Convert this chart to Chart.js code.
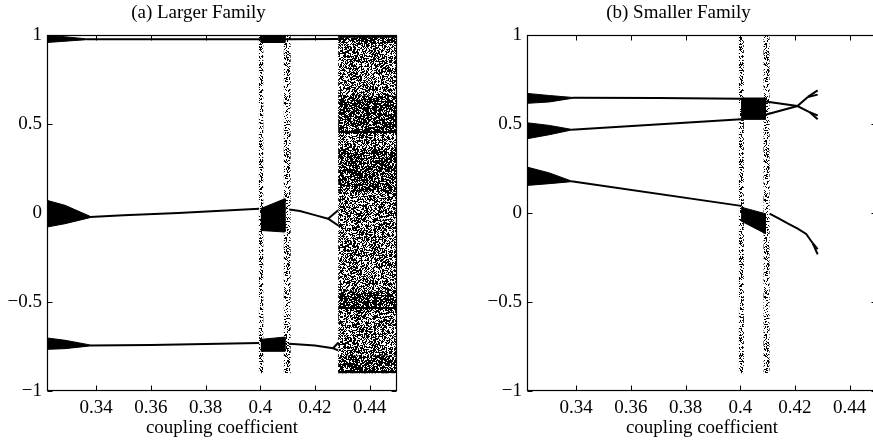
<!DOCTYPE html>
<html><head><meta charset="utf-8">
<script src="https://cdn.jsdelivr.net/npm/chart.js@4/dist/chart.umd.min.js"></script>
<style>
html,body{margin:0;padding:0;background:#fff;overflow:hidden;width:873px;height:444px;position:relative;}
#wrapA{position:absolute;left:0;top:0;width:440px;height:444px;}
#wrapB{position:absolute;left:480px;top:0;width:440px;height:444px;}
</style></head><body>
<div id="wrapA"><canvas id="cA" width="440" height="444"></canvas></div>
<div id="wrapB"><canvas id="cB" width="440" height="444"></canvas></div>
<script>
// ---------- axes / text ----------
const xRange = [0.322, 0.45];
const yRange = [-1, 1];
const xTicks = [0.34, 0.36, 0.38, 0.40, 0.42, 0.44];
const xTickLabels = ['0.34', '0.36', '0.38', '0.4', '0.42', '0.44'];
const yTicks = [-1, -0.5, 0, 0.5, 1];
const yTickLabels = ['\u22121', '\u22120.5', '0', '0.5', '1'];
const titleA = '(a) Larger Family';
const titleB = '(b) Smaller Family';
const xAxisTitle = 'coupling coefficient';

// ---------- panel (a) Larger Family ----------
const aTopWedgeUpper = [[0.322, 1.0], [0.3366, 0.978]];
const aTopWedgeLower = [[0.322, 0.958], [0.3366, 0.974]];
const aTopLine = [[0.3366, 0.976], [0.3996, 0.976], [0.4106, 0.976], [0.4285, 0.977]];
const aTopBox = [0.4002, 0.4090, 0.958, 1.0];
const aMidWedgeUpper = [[0.322, 0.071], [0.3286, 0.043], [0.3377, -0.018]];
const aMidWedgeLower = [[0.322, -0.079], [0.3286, -0.060], [0.3377, -0.026]];
const aMidLine1 = [[0.3377, -0.022], [0.35, -0.013], [0.37, 0.0], [0.3996, 0.024]];
const aMidBoxUpper = [[0.4002, 0.025], [0.4090, 0.080]];
const aMidBoxLower = [[0.4002, -0.098], [0.4090, -0.107]];
const aMidLine2 = [[0.4106, 0.020], [0.4145, 0.011], [0.4200, -0.012], [0.4248, -0.032]];
const aMidForkUp = [[0.4248, -0.032], [0.4285, 0.015]];
const aMidForkDown = [[0.4248, -0.032], [0.4285, -0.070]];
const aBotWedgeUpper = [[0.322, -0.702], [0.3286, -0.715], [0.3377, -0.741]];
const aBotWedgeLower = [[0.322, -0.766], [0.3286, -0.762], [0.3377, -0.747]];
const aBotLine1 = [[0.3377, -0.744], [0.36, -0.741], [0.38, -0.736], [0.3996, -0.731]];
const aBotBoxUpper = [[0.4002, -0.710], [0.4090, -0.697]];
const aBotBoxLower = [[0.4002, -0.777], [0.4090, -0.777]];
const aBotLine2 = [[0.4106, -0.734], [0.4200, -0.745], [0.4266, -0.760]];
const aBotForkUp = [[0.4266, -0.760], [0.4285, -0.729]];
const aBotForkDown = [[0.4266, -0.760], [0.4285, -0.772]];
const aStripes = [[0.3995, 0.4011], [0.4086, 0.4111]];
const aStripeY = [-0.9, 1.0];
const aChaos = [0.4285, 0.45, -0.9, 1.0];
const aChaosDenseBands = [[0.955, 1.0], [0.46, 0.66], [0.12, 0.36], [-0.53, -0.44], [-0.9, -0.80]];
const aChaosLines = [0.455, -0.534, -0.893, 0.99];

// ---------- panel (b) Smaller Family ----------
const bTopWedgeUpper = [[0.322, 0.672], [0.3302, 0.660], [0.3388, 0.649]];
const bTopWedgeLower = [[0.322, 0.616], [0.3302, 0.624], [0.3388, 0.645]];
const bTopLine = [[0.3388, 0.647], [0.37, 0.646], [0.4003, 0.642]];
const bMidWedgeUpper = [[0.322, 0.507], [0.3302, 0.492], [0.3382, 0.470]];
const bMidWedgeLower = [[0.322, 0.417], [0.3302, 0.440], [0.3382, 0.466]];
const bMidLine = [[0.3382, 0.468], [0.4003, 0.527]];
const bLowWedgeUpper = [[0.322, 0.258], [0.3302, 0.225], [0.3382, 0.180]];
const bLowWedgeLower = [[0.322, 0.155], [0.3302, 0.165], [0.3382, 0.176]];
const bLowLine = [[0.3382, 0.178], [0.4003, 0.040]];
const bTopBox = [0.4003, 0.4092, 0.526, 0.646];
const bLowBoxUpper = [[0.4003, 0.033], [0.4092, -0.004]];
const bLowBoxLower = [[0.4003, -0.045], [0.4092, -0.116]];
const bDescLine = [[0.4092, 0.627], [0.4209, 0.601], [0.4253, 0.567]];
const bDescForkA = [[0.4253, 0.567], [0.4283, 0.548]];
const bDescForkB = [[0.4253, 0.567], [0.4283, 0.526]];
const bAscLine = [[0.4092, 0.552], [0.4209, 0.601], [0.4247, 0.652]];
const bAscForkA = [[0.4247, 0.652], [0.4283, 0.689]];
const bAscForkB = [[0.4247, 0.652], [0.4283, 0.665]];
const bLowLine2 = [[0.4107, -0.004], [0.414, -0.030], [0.4175, -0.060], [0.421, -0.088], [0.4241, -0.118], [0.4265, -0.170]];
const bLowForkA = [[0.4265, -0.170], [0.4283, -0.203]];
const bLowForkB = [[0.4265, -0.170], [0.4283, -0.232]];
const bStripes = [[0.3995, 0.4013], [0.4085, 0.4107]];
const bStripeY = [-0.9, 1.0];

// ---------- styling helpers (texture only) ----------
function hash(x, y, s) {
  let h = Math.imul(x, 374761393) ^ Math.imul(y, 668265263) ^ Math.imul(s, 1274126177);
  h = Math.imul(h ^ (h >>> 13), 1274126177);
  h = h ^ (h >>> 16);
  return (h >>> 0) / 4294967296;
}
function texture(density, seed) {
  const size = 97;
  const c = document.createElement('canvas');
  c.width = size; c.height = size;
  const g = c.getContext('2d');
  const img = g.createImageData(size, size);
  for (let y = 0; y < size; y++) {
    for (let x = 0; x < size; x++) {
      const i = (y * size + x) * 4;
      if (hash(x, y, seed) < density) { img.data[i + 3] = 255; }
    }
  }
  g.putImageData(img, 0, 0);
  return g.createPattern(c, 'repeat');
}
const pts = arr => arr.map(([x, y]) => ({x, y}));
function lineDS(arr, w) {
  return {data: pts(arr), borderColor: '#000', borderWidth: w || 2, fill: false, pointRadius: 0, order: 1};
}
function polyDS(upper, lower, style, bw, order) {
  return {data: pts(upper.concat(lower.slice().reverse())), fill: 'shape', backgroundColor: style,
          borderColor: typeof style === 'string' ? style : 'rgba(0,0,0,0)', borderWidth: bw || 0,
          pointRadius: 0, order: order || 1};
}
function rectDS(x0, x1, y0, y1, style, bw, order) {
  return polyDS([[x0, y1], [x1, y1]], [[x0, y0], [x1, y0]], style, bw, order);
}

const frame = {
  id: 'frame',
  afterDatasetsDraw(chart) {
    const {ctx, chartArea: ca, scales: {x, y}} = chart;
    ctx.save();
    ctx.strokeStyle = '#000';
    ctx.lineWidth = 1.2;
    const L = Math.round(ca.left) + 0.5, R = Math.round(ca.right) - 0.5;
    const T = Math.round(ca.top) + 0.5, B = Math.round(ca.bottom) - 0.5;
    ctx.strokeRect(L, T, R - L, B - T);
    ctx.lineWidth = 1;
    ctx.beginPath();
    xTicks.forEach(v => {
      const px = Math.round(x.getPixelForValue(v)) + 0.5;
      ctx.moveTo(px, B); ctx.lineTo(px, B - 5);
      ctx.moveTo(px, T); ctx.lineTo(px, T + 5);
    });
    yTicks.forEach(v => {
      const py = Math.round(y.getPixelForValue(v)) + 0.5;
      ctx.moveTo(L, py); ctx.lineTo(L + 5, py);
      ctx.moveTo(R, py); ctx.lineTo(R - 5, py);
    });
    ctx.stroke();
    ctx.restore();
  }
};

Chart.defaults.font.family = '"Liberation Serif", "Times New Roman", serif';
Chart.defaults.font.size = 19;
Chart.defaults.color = '#000';

function makeChart(id, title, datasets) {
  return new Chart(document.getElementById(id), {
    type: 'line',
    data: {datasets},
    options: {
      responsive: false, animation: false, devicePixelRatio: 1,
      events: [],
      layout: {padding: {left: 0, right: 43, top: 0, bottom: 0}},
      elements: {line: {tension: 0}, point: {radius: 0}},
      plugins: {
        legend: {display: false}, tooltip: {enabled: false},
        title: {display: true, text: title, color: '#000', font: {size: 19, weight: 'normal'}, padding: {top: 2, bottom: 10.2}}
      },
      scales: {
        x: {
          type: 'linear', min: xRange[0], max: xRange[1],
          grid: {display: false, drawTicks: false}, border: {display: false},
          afterBuildTicks: s => { s.ticks = xTicks.map(v => ({value: v})); },
          ticks: {padding: 6, autoSkip: false, maxRotation: 0, callback: (v, i) => xTickLabels[i]},
          title: {display: true, text: xAxisTitle, color: '#000', font: {size: 19}, padding: {top: 0, bottom: 4.6}},
          afterFit: s => { s.height = 53; }
        },
        y: {
          type: 'linear', min: yRange[0], max: yRange[1],
          grid: {display: false, drawTicks: false}, border: {display: false},
          afterBuildTicks: s => { s.ticks = yTicks.map(v => ({value: v})); },
          ticks: {padding: 5, autoSkip: false, callback: (v, i) => yTickLabels[i]},
          afterFit: s => { s.width = 47; }
        }
      }
    },
    plugins: [frame]
  });
}

// textures
const chaosTex = texture(0.53, 1);
const chaosDenseTex = texture(0.4, 2);
const stripeTex = texture(0.36, 3);

// ---------- datasets (a) ----------
const dsA = [];
aStripes.forEach(([x0, x1]) => dsA.push(rectDS(x0, x1, aStripeY[0], aStripeY[1], stripeTex, 0, 10)));
dsA.push(rectDS(aChaos[0], aChaos[1], aChaos[2], aChaos[3], chaosTex, 0, 10));
aChaosDenseBands.forEach(([y0, y1]) => dsA.push(rectDS(aChaos[0], aChaos[1], y0, y1, chaosDenseTex, 0, 9)));
aChaosLines.forEach(v => dsA.push(rectDS(aChaos[0], aChaos[1], v - 0.006, v + 0.006, '#000', 0, 8)));
[aTopLine, aMidLine1, aMidLine2, aMidForkUp, aMidForkDown, aBotLine1, aBotLine2, aBotForkUp, aBotForkDown]
  .forEach(l => dsA.push(lineDS(l, 2)));
dsA.push(polyDS(aTopWedgeUpper, aTopWedgeLower, '#000', 1));
dsA.push(polyDS(aMidWedgeUpper, aMidWedgeLower, '#000', 1));
dsA.push(polyDS(aBotWedgeUpper, aBotWedgeLower, '#000', 1));
dsA.push(rectDS(aTopBox[0], aTopBox[1], aTopBox[2], aTopBox[3], '#000', 1));
dsA.push(polyDS(aMidBoxUpper, aMidBoxLower, '#000', 1));
dsA.push(polyDS(aBotBoxUpper, aBotBoxLower, '#000', 1));

// ---------- datasets (b) ----------
const dsB = [];
bStripes.forEach(([x0, x1]) => dsB.push(rectDS(x0, x1, bStripeY[0], bStripeY[1], stripeTex, 0, 10)));
[bTopLine, bMidLine, bLowLine, bDescLine, bDescForkA, bDescForkB, bAscLine, bAscForkA, bAscForkB, bLowLine2, bLowForkA, bLowForkB]
  .forEach(l => dsB.push(lineDS(l, 2)));
dsB.push(polyDS(bTopWedgeUpper, bTopWedgeLower, '#000', 1));
dsB.push(polyDS(bMidWedgeUpper, bMidWedgeLower, '#000', 1));
dsB.push(polyDS(bLowWedgeUpper, bLowWedgeLower, '#000', 1));
dsB.push(rectDS(bTopBox[0], bTopBox[1], bTopBox[2], bTopBox[3], '#000', 1));
dsB.push(polyDS(bLowBoxUpper, bLowBoxLower, '#000', 1));

makeChart('cA', titleA, dsA);
makeChart('cB', titleB, dsB);
</script>
</body></html>
